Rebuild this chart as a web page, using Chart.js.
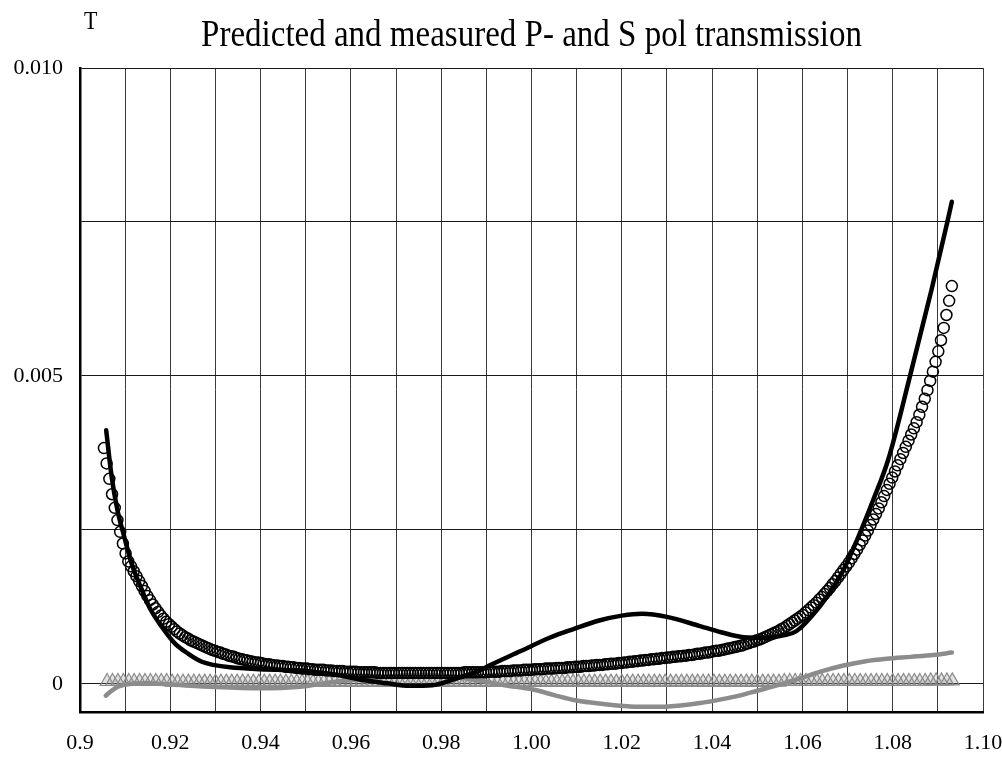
<!DOCTYPE html>
<html><head><meta charset="utf-8">
<script src="https://cdn.jsdelivr.net/npm/chart.js@4.4.1/dist/chart.umd.min.js"></script>
<style>html,body{margin:0;padding:0;background:#fff;overflow:hidden}#wrap{width:1002px;height:759px}</style>
</head><body><div id="wrap"><canvas id="c" width="1002" height="759"></canvas></div>
<script>
const titleText = 'Predicted and measured P- and S pol transmission';
const yAxisTitle = 'T';

const xGridValues = [0.90,0.91,0.92,0.93,0.94,0.95,0.96,0.97,0.98,0.99,1.00,1.01,1.02,1.03,1.04,1.05,1.06,1.07,1.08,1.09,1.10];
const xTickLabels = ['0.9','','0.92','','0.94','','0.96','','0.98','','1.00','','1.02','','1.04','','1.06','','1.08','','1.10'];
const yGridValues = [0, 0.0025, 0.005, 0.0075, 0.010];
const yTickLabels = ['0','','0.005','','0.010'];

// Measured P (open circles), sampled on a regular grid
const measStart = 0.9053, measStep = 0.0006;
const measT = [
0.00383,0.00358,0.00333,0.00308,0.00286,0.00266,0.00247,0.00228,0.00212,0.00199,
0.00191,0.00183,0.00175,0.00167,0.00159,0.00151,0.00143,0.00136,0.00129,0.00123,
0.00117,0.00111,0.00106,0.00101,0.00097,0.00093,0.00089,0.00085,0.00082,0.00079,
0.00076,0.00074,0.00071,0.00069,0.00067,0.00065,0.00063,0.00061,0.00059,0.00057,
0.00055,0.00054,0.00052,0.00051,0.00049,0.00048,0.00046,0.00045,0.00044,0.00042,
0.00041,0.00040,0.00039,0.00038,0.00037,0.00036,0.00035,0.00035,0.00034,0.00033,
0.00032,0.00032,0.00031,0.00030,0.00030,0.00029,0.00029,0.00028,0.00028,0.00027,
0.00027,0.00026,0.00026,0.00025,0.00025,0.00025,0.00024,0.00024,0.00023,0.00023,
0.00023,0.00023,0.00022,0.00022,0.00022,0.00021,0.00021,0.00021,0.00021,0.00020,
0.00020,0.00020,0.00020,0.00020,0.00019,0.00019,0.00019,0.00019,0.00019,0.00019,
0.00019,0.00018,0.00018,0.00018,0.00018,0.00018,0.00018,0.00018,0.00018,0.00018,
0.00018,0.00018,0.00018,0.00018,0.00018,0.00018,0.00018,0.00018,0.00018,0.00018,
0.00018,0.00018,0.00018,0.00018,0.00018,0.00018,0.00018,0.00018,0.00018,0.00018,
0.00018,0.00018,0.00018,0.00019,0.00019,0.00019,0.00019,0.00019,0.00019,0.00019,
0.00019,0.00019,0.00020,0.00020,0.00020,0.00020,0.00020,0.00021,0.00021,0.00021,
0.00021,0.00022,0.00022,0.00022,0.00022,0.00023,0.00023,0.00023,0.00023,0.00024,
0.00024,0.00024,0.00024,0.00025,0.00025,0.00025,0.00025,0.00026,0.00026,0.00026,
0.00026,0.00027,0.00027,0.00027,0.00028,0.00028,0.00028,0.00029,0.00029,0.00029,
0.00030,0.00030,0.00031,0.00031,0.00031,0.00032,0.00032,0.00033,0.00033,0.00033,
0.00034,0.00034,0.00035,0.00035,0.00036,0.00036,0.00037,0.00037,0.00038,0.00038,
0.00039,0.00039,0.00040,0.00040,0.00041,0.00041,0.00042,0.00042,0.00043,0.00043,
0.00044,0.00044,0.00045,0.00045,0.00046,0.00046,0.00047,0.00047,0.00048,0.00049,
0.00049,0.00050,0.00051,0.00051,0.00052,0.00053,0.00054,0.00054,0.00055,0.00056,
0.00057,0.00058,0.00059,0.00060,0.00061,0.00062,0.00063,0.00065,0.00066,0.00068,
0.00069,0.00071,0.00072,0.00074,0.00076,0.00078,0.00080,0.00082,0.00084,0.00086,
0.00089,0.00091,0.00094,0.00097,0.00100,0.00103,0.00106,0.00109,0.00112,0.00116,
0.00120,0.00124,0.00128,0.00132,0.00137,0.00141,0.00146,0.00151,0.00156,0.00162,
0.00167,0.00173,0.00179,0.00185,0.00191,0.00197,0.00204,0.00211,0.00218,0.00226,
0.00233,0.00241,0.00249,0.00258,0.00267,0.00276,0.00285,0.00295,0.00305,0.00315,
0.00325,0.00335,0.00345,0.00355,0.00365,0.00375,0.00385,0.00395,0.00405,0.00415,
0.00425,0.00437,0.00450,0.00463,0.00477,0.00492,0.00507,0.00523,0.00540,0.00558,
0.00578,0.00599,0.00622,0.00646
];

// Measured S (grey triangles)
const triStart = 0.906, triStep = 0.0012;
const triT = [
0.00004,0.00004,0.00004,0.00004,0.00004,0.00004,0.00004,0.00004,0.00004,0.00004,
0.00004,0.00004,0.00003,0.00003,0.00003,0.00003,0.00003,0.00003,0.00003,0.00003,
0.00003,0.00003,0.00003,0.00003,0.00003,0.00003,0.00003,0.00003,0.00003,0.00003,
0.00003,0.00003,0.00003,0.00003,0.00003,0.00003,0.00003,0.00003,0.00003,0.00003,
0.00003,0.00003,0.00003,0.00003,0.00003,0.00003,0.00003,0.00003,0.00003,0.00003,
0.00003,0.00003,0.00003,0.00003,0.00003,0.00003,0.00003,0.00003,0.00003,0.00003,
0.00003,0.00003,0.00003,0.00003,0.00003,0.00003,0.00003,0.00003,0.00003,0.00003,
0.00003,0.00003,0.00003,0.00003,0.00003,0.00003,0.00003,0.00003,0.00003,0.00003,
0.00003,0.00003,0.00003,0.00003,0.00003,0.00003,0.00003,0.00003,0.00003,0.00003,
0.00003,0.00003,0.00003,0.00003,0.00003,0.00003,0.00003,0.00003,0.00003,0.00003,
0.00003,0.00003,0.00003,0.00003,0.00003,0.00003,0.00003,0.00003,0.00003,0.00003,
0.00003,0.00003,0.00003,0.00003,0.00003,0.00003,0.00003,0.00003,0.00003,0.00003,
0.00003,0.00003,0.00003,0.00003,0.00003,0.00004,0.00004,0.00004,0.00004,0.00004,
0.00004,0.00004,0.00004,0.00004,0.00004,0.00004,0.00004,0.00004,0.00004,0.00004,
0.00004,0.00004,0.00004,0.00004,0.00004,0.00004,0.00004,0.00004,0.00004,0.00004,
0.00004,0.00004,0.00005,0.00005,0.00005,0.00005,0.00005
];

// Predicted P (black line)
const predPX = [0.9058,0.9070,0.9083,0.9098,0.9114,0.9137,0.9157,0.9181,0.9210,0.9240,0.9270,0.9295,0.9332,0.9400,0.9487,0.9540,0.9582,0.9630,0.9680,0.9730,0.9780,0.9830,0.9879,0.9910,0.9975,1.0040,1.0093,1.0150,1.0200,1.0245,1.0300,1.0373,1.0420,1.0470,1.0520,1.0558,1.0587,1.0632,1.0669,1.0691,1.0720,1.0757,1.0790,1.0838,1.0886,1.0921,1.0931];
const predPY = [0.00412,0.00337,0.00282,0.00239,0.00196,0.00153,0.00120,0.00093,0.00066,0.00049,0.00036,0.00031,0.00027,0.00024,0.00022,0.00018,0.00013,0.00006,0.00001,-0.00003,-0.00002,0.00008,0.00020,0.00031,0.00053,0.00075,0.00089,0.00103,0.00111,0.00114,0.00109,0.00094,0.00084,0.00076,0.00075,0.00079,0.00086,0.00120,0.00158,0.00185,0.00232,0.00299,0.00364,0.00499,0.00640,0.00750,0.00783];

// Predicted S (grey line)
const predSX = [0.9057,0.9070,0.9085,0.9110,0.9150,0.9200,0.9300,0.9400,0.9480,0.9550,0.9620,0.9700,0.9760,0.9820,0.9880,0.9940,1.0003,1.0050,1.0093,1.0140,1.0189,1.0240,1.0285,1.0330,1.0373,1.0420,1.0460,1.0500,1.0550,1.0595,1.0640,1.0691,1.0740,1.0787,1.0840,1.0890,1.0931];
const predSY = [-0.00019,-0.00011,-0.00004,0.00000,0.00001,-0.00001,-0.00005,-0.00007,-0.00005,0.00002,0.00008,0.00013,0.00015,0.00012,0.00006,-0.00002,-0.00009,-0.00018,-0.00026,-0.00031,-0.00035,-0.00037,-0.00037,-0.00035,-0.00031,-0.00025,-0.00019,-0.00011,-0.00001,0.00009,0.00020,0.00030,0.00037,0.00041,0.00044,0.00047,0.00051];

const pts = (xs, ys) => ys.map((y, i) => ({x: xs[i], y}));
const measX = measT.map((_, i) => +(measStart + i * measStep).toFixed(4));
const triX = triT.map((_, i) => +(triStart + i * triStep).toFixed(4));

const SERIF = '"Liberation Serif", "Times New Roman", serif';

const textPlugin = {
  id: 'texts',
  afterDraw(chart) {
    const ctx = chart.ctx, ca = chart.chartArea;
    ctx.save();
    ctx.fillStyle = '#000';
    ctx.textBaseline = 'alphabetic';
    ctx.font = '33px ' + SERIF;
    ctx.textAlign = 'center';
    ctx.translate((ca.left + ca.right) / 2, 46);
    ctx.scale(1, 1.18);
    ctx.fillText(titleText, 0, 0);
    ctx.restore();
    ctx.save();
    ctx.fillStyle = '#000';
    ctx.textBaseline = 'alphabetic';
    ctx.font = '22px ' + SERIF;
    ctx.textAlign = 'left';
    ctx.translate(84, 29);
    ctx.scale(1, 1.15);
    ctx.fillText(yAxisTitle, 0, 0);
    ctx.restore();
  }
};

new Chart(document.getElementById('c'), {
  type: 'line',
  data: {
    datasets: [
      { label: 'Predicted P', data: pts(predPX, predPY), borderColor: '#000', borderWidth: 4.5,
        pointRadius: 0, cubicInterpolationMode: 'monotone', fill: false, borderCapStyle: 'round' },
      { label: 'Measured P', data: pts(measX, measT), showLine: false, pointStyle: 'circle',
        pointRadius: 5.5, pointBorderWidth: 1.5, pointBorderColor: '#000', pointBackgroundColor: 'rgba(0,0,0,0)' },
      { label: 'Predicted S', data: pts(predSX, predSY), borderColor: '#8c8c8c', borderWidth: 4.5,
        pointRadius: 0, cubicInterpolationMode: 'monotone', fill: false, borderCapStyle: 'round' },
      { label: 'Measured S', data: pts(triX, triT), showLine: false, pointStyle: 'triangle',
        pointRadius: 8, pointBorderWidth: 1.2, pointBorderColor: '#8a8a8a', pointBackgroundColor: 'rgba(140,140,140,0.25)' }
    ]
  },
  options: {
    responsive: false,
    animation: false,
    devicePixelRatio: 1,
    layout: { padding: { top: 68, right: 19, bottom: 0, left: 0 } },
    plugins: { legend: { display: false }, tooltip: { enabled: false }, title: { display: false } },
    scales: {
      x: {
        type: 'linear', min: 0.9, max: 1.1,
        afterBuildTicks: s => { s.ticks = xGridValues.map(v => ({ value: v })); },
        afterFit: s => { s.height = 47; s.paddingLeft = 0; s.paddingRight = 0; },
        grid: { color: '#3a3a3a', lineWidth: 1, drawTicks: false },
        border: { color: '#000', width: 2.5 },
        ticks: { autoSkip: false, maxRotation: 0, padding: 18, color: '#000',
          font: { family: SERIF, size: 22 },
          callback: (v, i) => xTickLabels[i] }
      },
      y: {
        type: 'linear', min: -0.000455, max: 0.010,
        afterBuildTicks: s => { s.ticks = yGridValues.map(v => ({ value: v })); },
        afterFit: s => { s.width = 80; s.paddingTop = 0; s.paddingBottom = 0; },
        grid: { color: '#1a1a1a', lineWidth: 1, drawTicks: false },
        border: { color: '#000', width: 2.5 },
        ticks: { padding: 17, color: '#000', font: { family: SERIF, size: 22 },
          callback: (v, i) => yTickLabels[i] }
      }
    }
  },
  plugins: [textPlugin]
});
</script></body></html>
